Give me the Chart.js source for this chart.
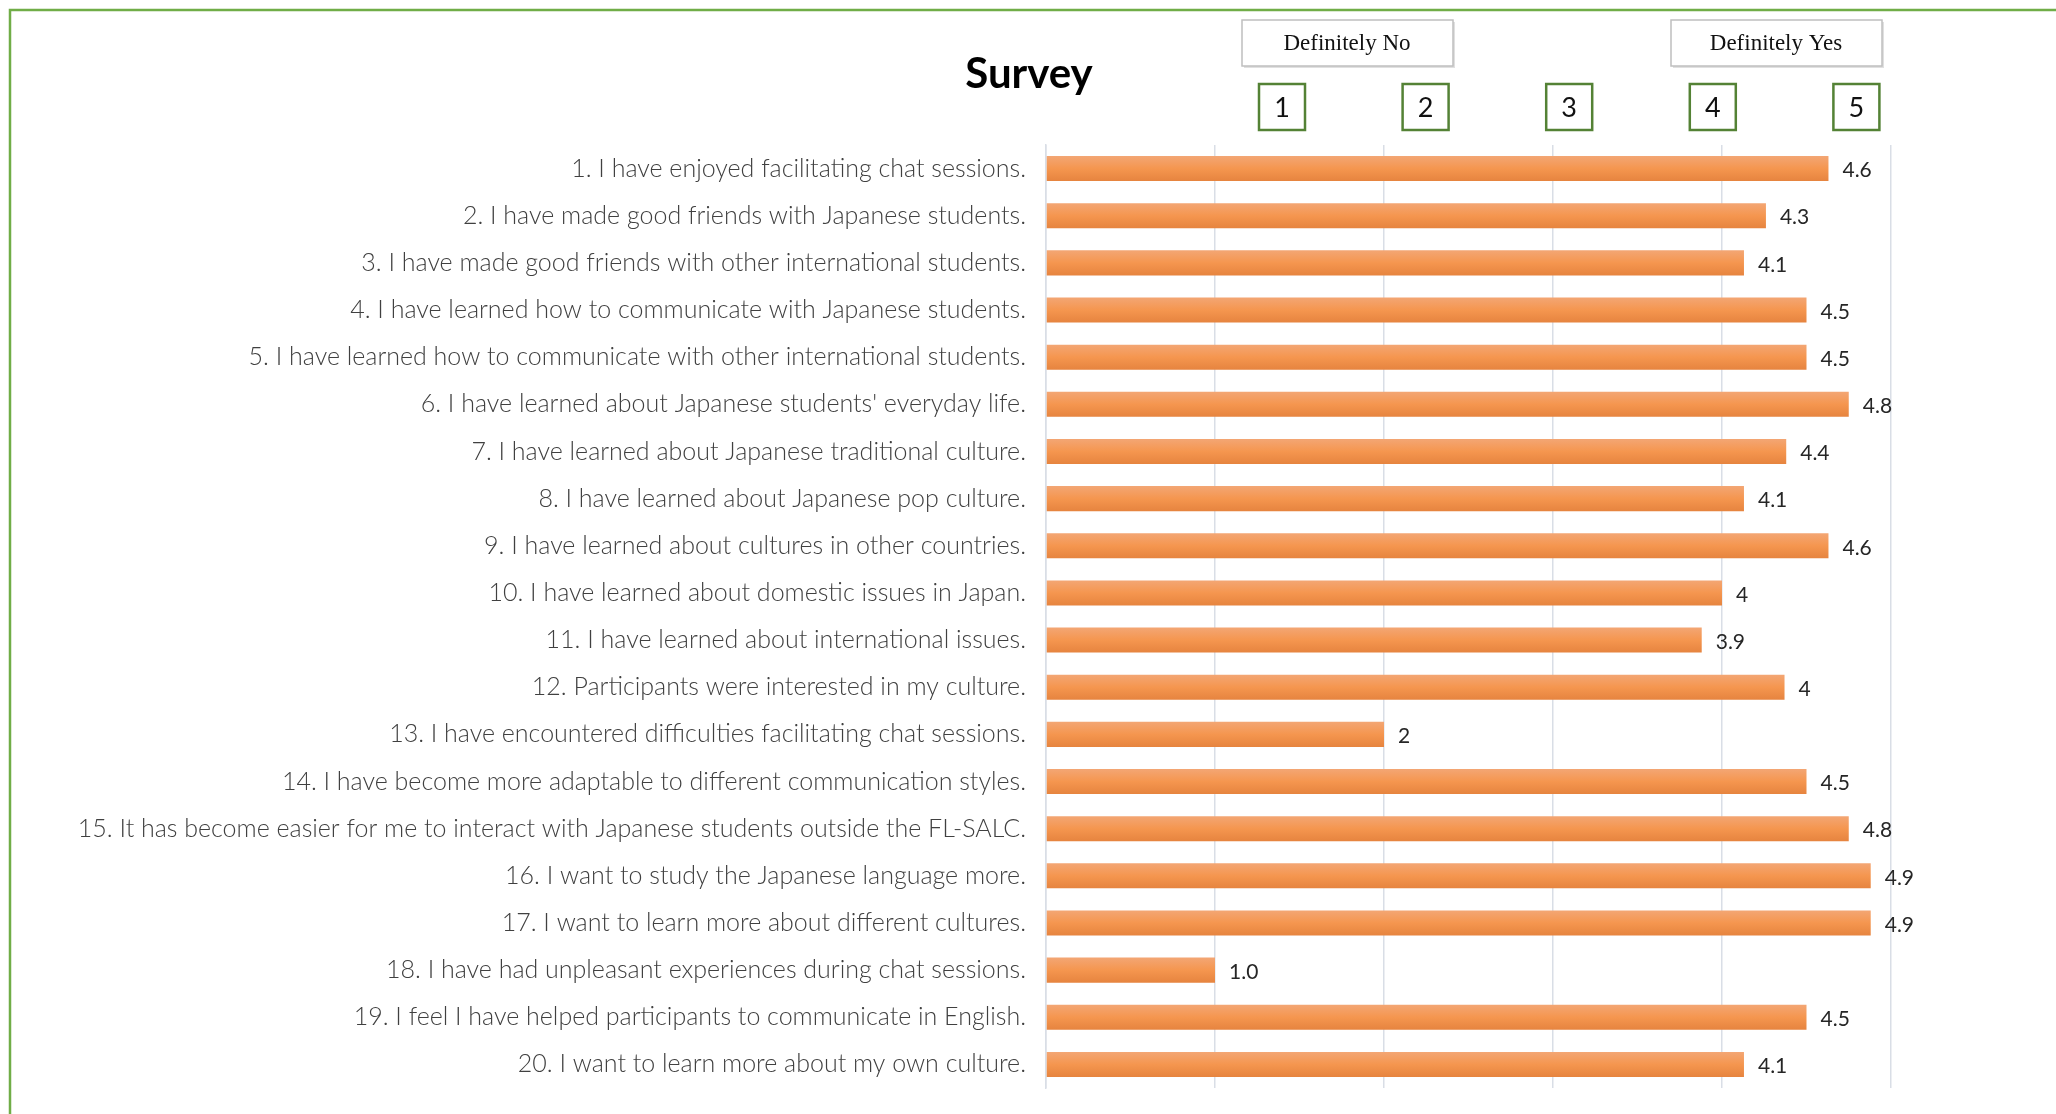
<!DOCTYPE html>
<html>
<head>
<meta charset="utf-8">
<script src="https://cdn.jsdelivr.net/npm/chart.js@4.4.1/dist/chart.umd.min.js"></script>
<style>
  html, body { margin: 0; padding: 0; background: #fff; overflow: hidden; }
  #wrap { width: 2056px; height: 1114px; position: relative; }
</style>
</head>
<body>
<div id="wrap"><canvas id="bar-chart"></canvas></div>
<script>
// 설문 문항
var questions = [
  '1. I have enjoyed facilitating chat sessions.',
  '2. I have made good friends with Japanese students.',
  '3. I have made good friends with other international students.',
  '4. I have learned how to communicate with Japanese students.',
  '5. I have learned how to communicate with other international students.',
  '6. I have learned about Japanese students\' everyday life.',
  '7. I have learned about Japanese traditional culture.',
  '8. I have learned about Japanese pop culture.',
  '9. I have learned about cultures in other countries.',
  '10. I have learned about domestic issues in Japan.',
  '11. I have learned about international issues.',
  '12. Participants were interested in my culture.',
  '13. I have encountered difficulties facilitating chat sessions.',
  '14. I have become more adaptable to different communication styles.',
  '15. It has become easier for me to interact with Japanese students outside the FL-SALC.',
  '16. I want to study the Japanese language more.',
  '17. I want to learn more about different cultures.',
  '18. I have had unpleasant experiences during chat sessions.',
  '19. I feel I have helped participants to communicate in English.',
  '20. I want to learn more about my own culture.'
];
// 평균 점수 (막대 길이)
var scores = [4.63, 4.26, 4.13, 4.5, 4.5, 4.75, 4.38, 4.13, 4.63, 4.0,
              3.88, 4.37, 2.0, 4.5, 4.75, 4.88, 4.88, 1.0, 4.5, 4.13];
// 막대 옆에 표시되는 값
var scoreLabels = ['4.6', '4.3', '4.1', '4.5', '4.5', '4.8', '4.4', '4.1', '4.6', '4',
                   '3.9', '4', '2', '4.5', '4.8', '4.9', '4.9', '1.0', '4.5', '4.1'];
var scaleLabels = ['1', '2', '3', '4', '5'];
var headerLabels = ['Definitely No', 'Definitely Yes'];
var chartTitle = 'Survey';

var BAR_PCT = 0.9, CAT_PCT = 0.59;

function barGradient(ctx) {
  var chart = ctx.chart;
  var y = chart.scales.y;
  if (!y || ctx.dataIndex === undefined) return '#F5964F';
  var c = y.getPixelForValue(ctx.dataIndex);
  var half = (y.height / questions.length) * BAR_PCT * CAT_PCT / 2;
  if (!isFinite(c) || !isFinite(half) || half <= 0) return '#F5964F';
  var g = chart.ctx.createLinearGradient(0, c - half, 0, c + half);
  g.addColorStop(0, '#F3A674');
  g.addColorStop(0.5, '#F5964F');
  g.addColorStop(1, '#E6843F');
  return g;
}

var decoPlugin = {
  id: 'deco',
  beforeDraw: function(chart) {
    var c = chart.ctx;
    c.save();
    c.strokeStyle = '#70AD47';
    c.lineWidth = 2.5;
    c.beginPath();
    c.moveTo(10, 1114);
    c.lineTo(10, 10);
    c.lineTo(2056, 10);
    c.stroke();
    c.restore();
  },
  afterDraw: function(chart) {
    var c = chart.ctx;
    c.save();
    // 제목
    c.fillStyle = '#000';
    c.font = 'bold 42px Lato, "Open Sans", sans-serif';
    c.textAlign = 'center';
    c.textBaseline = 'middle';
    c.fillText(chartTitle, 1029, 74);

    // Definitely No / Yes 박스
    var hx = [1242, 1671];
    for (var i = 0; i < headerLabels.length; i++) {
      c.fillStyle = 'rgba(0,0,0,0.12)';
      c.fillRect(hx[i] + 2, 22, 211, 46);
      c.fillStyle = '#fff';
      c.fillRect(hx[i], 20, 211, 46);
      c.strokeStyle = '#BFBFBF';
      c.lineWidth = 1.5;
      c.strokeRect(hx[i], 20, 211, 46);
      c.fillStyle = '#111';
      c.font = '23px "Liberation Serif", "DejaVu Serif", serif';
      c.fillText(headerLabels[i], hx[i] + 105, 44);
    }

    // 1~5 박스
    for (var j = 0; j < scaleLabels.length; j++) {
      var cx = 1282 + j * 143.6;
      c.fillStyle = '#fff';
      c.fillRect(cx - 23, 84, 46, 46);
      c.strokeStyle = '#548235';
      c.lineWidth = 2.5;
      c.strokeRect(cx - 23, 84, 46, 46);
      c.fillStyle = '#111';
      c.font = '27px Lato, "Open Sans", sans-serif';
      c.fillText(scaleLabels[j], cx, 108);
    }

    // 값 라벨
    var meta = chart.getDatasetMeta(0);
    c.font = '21px Lato, "Open Sans", sans-serif';
    c.fillStyle = '#262626';
    c.textAlign = 'left';
    meta.data.forEach(function(bar, k) {
      c.fillText(scoreLabels[k], bar.x + 14, bar.y + 2);
    });
    c.restore();
  }
};

new Chart(document.getElementById('bar-chart'), {
  type: 'bar',
  data: {
    labels: questions,
    datasets: [{
      label: chartTitle,
      data: scores,
      backgroundColor: barGradient,
      borderWidth: 0,
      barPercentage: BAR_PCT,
      categoryPercentage: CAT_PCT
    }]
  },
  options: {
    indexAxis: 'y',
    responsive: true,
    maintainAspectRatio: false,
    animation: false,
    layout: { padding: { left: 0, top: 145, right: 165, bottom: 26 } },
    plugins: {
      legend: { display: false },
      tooltip: { enabled: false },
      title: { display: false }
    },
    scales: {
      x: {
        min: 0,
        max: 5,
        afterFit: function(s) { s.height = 0; s.paddingLeft = 0; s.paddingRight = 0; },
        ticks: { display: false, stepSize: 1 },
        grid: { color: '#D9DEE6', lineWidth: 1.5, drawTicks: false },
        border: { display: false }
      },
      y: {
        afterFit: function(s) { s.width = 1046; s.paddingTop = 0; s.paddingBottom = 0; },
        ticks: {
          color: '#404040',
          padding: 20,
          font: { family: 'Lato, "Open Sans", sans-serif', size: 25, weight: '300' }
        },
        grid: { display: false, drawTicks: false },
        border: { display: true, color: '#D9DEE6', width: 1.5 }
      }
    }
  },
  plugins: [decoPlugin]
});
</script>
</body>
</html>
